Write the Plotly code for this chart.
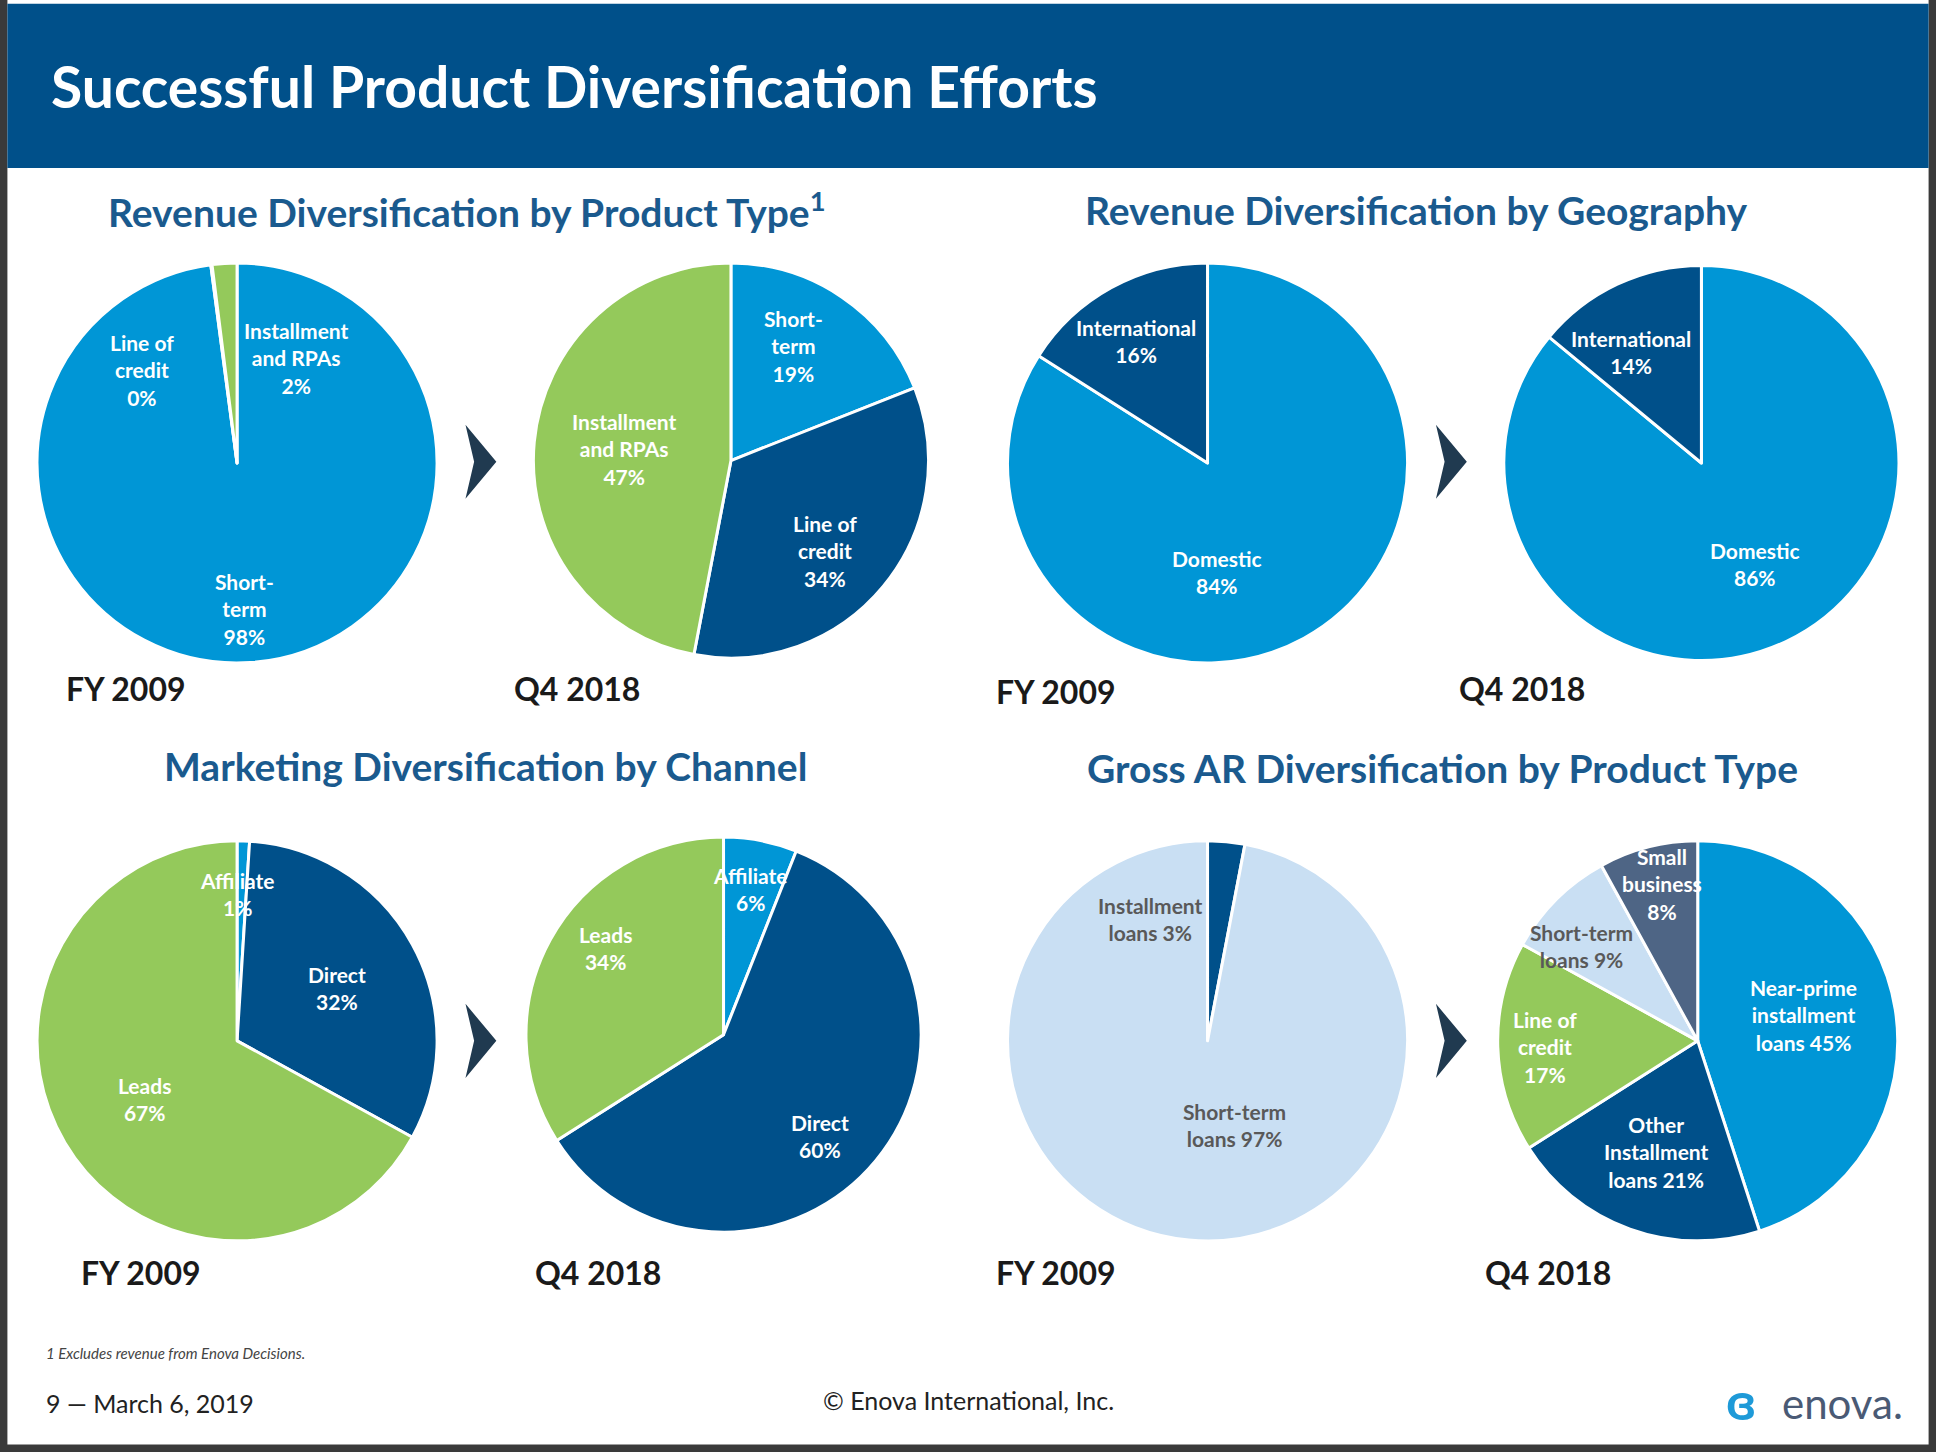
import plotly.graph_objects as go

W0, H0 = 1568, 1176
def px(x): return x / W0
def py(y): return 1 - y / H0

LB, DB, GR, PB, SL = "#0096D6", "#00508A", "#94C95B", "#C9DFF3", "#4E6585"

p1_labels = ["Short-term", "Line of credit", "Installment and RPAs"]; p1_values = [98, 0.1, 2]
p2_labels = ["Short-term", "Line of credit", "Installment and RPAs"]; p2_values = [19, 34, 47]
p3_labels = ["Domestic", "International"]; p3_values = [84, 16]
p4_labels = ["Domestic", "International"]; p4_values = [86, 14]
p5_labels = ["Affiliate", "Direct", "Leads"]; p5_values = [1, 32, 67]
p6_labels = ["Affiliate", "Direct", "Leads"]; p6_values = [6, 60, 34]
p7_labels = ["Installment loans", "Short-term loans"]; p7_values = [3, 97]
p8_labels = ["Near-prime installment loans", "Other Installment loans", "Line of credit",
             "Short-term loans", "Small business"]; p8_values = [45, 21, 17, 9, 8]

pies = [
    (p1_labels, p1_values, [LB, LB, GR], 192, 375, 162),
    (p2_labels, p2_values, [LB, DB, GR], 592, 373, 160),
    (p3_labels, p3_values, [LB, DB], 978, 375, 162),
    (p4_labels, p4_values, [LB, DB], 1378, 375, 160),
    (p5_labels, p5_values, [LB, DB, GR], 192, 843, 162),
    (p6_labels, p6_values, [LB, DB, GR], 586, 838, 160),
    (p7_labels, p7_values, [DB, PB], 978, 843, 162),
    (p8_labels, p8_values, [LB, DB, GR, PB, SL], 1375, 843, 162),
]

fig = go.Figure()
for labels, values, colors, cx, cy, r in pies:
    fig.add_trace(go.Pie(labels=labels, values=values, sort=False, direction="clockwise",
                         rotation=0, textinfo="none", hoverinfo="label+percent", showlegend=False,
                         marker=dict(colors=colors, line=dict(color="white", width=3)),
                         domain=dict(x=[px(cx - r), px(cx + r)], y=[py(cy + r), py(cy - r)])))

FONT = "Lato"
ann = []
def t(x, y, s, size=21, color="white", bold=True, xanchor="center", italic=False):
    if bold: s = "<b>" + s + "</b>"
    if italic: s = "<i>" + s + "</i>"
    ann.append(dict(x=px(x), y=py(y), xref="paper", yref="paper", text=s, showarrow=False,
                    xanchor=xanchor, yanchor="middle", align="center",
                    font=dict(family=FONT, size=size, color=color)))

G = "#595959"
t(115, 300, "Line of<br>credit<br>0%"); t(240, 290, "Installment<br>and RPAs<br>2%")
t(198, 493, "Short-<br>term<br>98%")
t(643, 280, "Short-<br>term<br>19%"); t(506, 364, "Installment<br>and RPAs<br>47%")
t(668, 446, "Line of<br>credit<br>34%")
t(920, 276, "International<br>16%"); t(986, 463, "Domestic<br>84%")
t(1321, 285, "International<br>14%"); t(1421, 457, "Domestic<br>86%")
t(192, 724, "Affiliate<br>1%"); t(273, 800, "Direct<br>32%"); t(117, 890, "Leads<br>67%")
t(608, 720, "Affiliate<br>6%"); t(490, 768, "Leads<br>34%"); t(664, 920, "Direct<br>60%")
t(932, 744, "Installment<br>loans 3%", color=G); t(1000, 911, "Short-term<br>loans 97%", color=G)
t(1461, 822, "Near-prime<br>installment<br>loans 45%"); t(1342, 933, "Other<br>Installment<br>loans 21%")
t(1251, 848, "Line of<br>credit<br>17%"); t(1281, 766, "Short-term<br>loans 9%", color=G)
t(1346, 716, "Small<br>business<br>8%")
for x, y, s in [(52, 558, "FY 2009"), (415, 558, "Q4 2018"), (805, 560, "FY 2009"), (1180, 558, "Q4 2018"),
                (64, 1031, "FY 2009"), (432, 1031, "Q4 2018"), (805, 1031, "FY 2009"), (1201, 1031, "Q4 2018")]:
    t(x, y, s, size=32, color="#1a1a1a", xanchor="left")
TC = "#1A5A8E"
t(378, 170, "Revenue Diversification by Product Type<sup>1</sup>", size=39, color=TC)
t(1147, 170, "Revenue Diversification by Geography", size=39, color=TC)
t(393, 620, "Marketing Diversification by Channel", size=39, color=TC)
t(1168, 622, "Gross AR Diversification by Product Type", size=39, color=TC)
t(40, 70, "Successful Product Diversification Efforts", size=57, color="white", xanchor="left")
t(36, 1096, "1 Excludes revenue from Enova Decisions.", size=15, color="#444", bold=False, italic=True, xanchor="left")
t(36, 1136, "9 — March 6, 2019", size=25, color="#222", bold=False, xanchor="left")
t(784, 1134, "© Enova International, Inc.", size=25, color="#222", bold=False)
t(1442, 1136, "enova.", size=42, color="#4A5A75", bold=False, xanchor="left")
t(1410, 1134, "ɞ", size=52, color="#1E9AD8", bold=True)

shapes = [
    dict(type="rect", xref="paper", yref="paper", x0=px(6), x1=px(1562), y0=py(1170), y1=py(0),
         fillcolor="white", line=dict(width=0), layer="below"),
    dict(type="rect", xref="paper", yref="paper", x0=px(6), x1=px(1562), y0=py(136), y1=py(3),
         fillcolor="#00508A", line=dict(width=0), layer="below"),
]
for ax, ay in [(377, 374), (1163, 374), (377, 843), (1163, 843)]:
    pth = f"M {px(ax)},{py(ay-30)} L {px(ax+25)},{py(ay)} L {px(ax)},{py(ay+30)} L {px(ax+7)},{py(ay)} Z"
    shapes.append(dict(type="path", xref="paper", yref="paper", path=pth,
                       fillcolor="#203A50", line=dict(width=0)))

fig.update_layout(width=1936, height=1452, margin=dict(l=0, r=0, t=0, b=0),
                  paper_bgcolor="#3a3a3a", plot_bgcolor="white",
                  annotations=ann, shapes=shapes)
fig.write_html("out.html", post_script="document.body.style.margin='0';",
               config={"displayModeBar": False})
